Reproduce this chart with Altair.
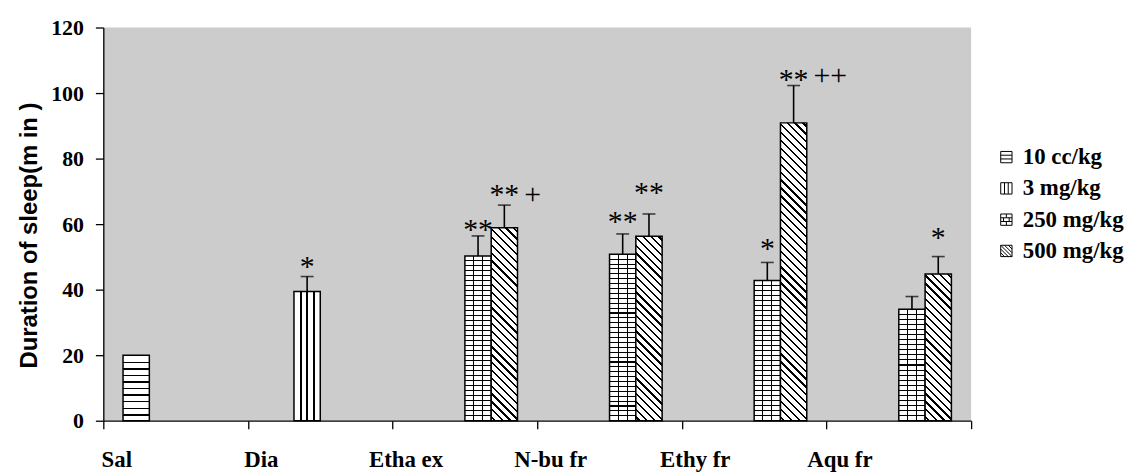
import math
import altair as alt
import pandas as pd

# ---------------- data ----------------
categories = ["Sal", "Dia", "Etha ex", "N-bu fr", "Ethy fr", "Aqu fr"]
series_names = ["10 cc/kg", "3 mg/kg", "250 mg/kg", "500 mg/kg"]

bar_category = ["Sal", "Dia", "Etha ex", "Etha ex", "N-bu fr", "N-bu fr",
                "Ethy fr", "Ethy fr", "Aqu fr", "Aqu fr"]
bar_series = ["10 cc/kg", "3 mg/kg", "250 mg/kg", "500 mg/kg", "250 mg/kg",
              "500 mg/kg", "250 mg/kg", "500 mg/kg", "250 mg/kg", "500 mg/kg"]
bar_value = [20.0, 39.4, 50.3, 58.9, 50.8, 56.3, 42.8, 90.9, 34.0, 44.8]
bar_error = [0.0, 4.6, 6.1, 6.9, 6.2, 6.8, 5.5, 11.4, 3.9, 5.3]
star_text = ["", "*", "**", "**", "**", "**", "*", "**", "", "*"]
star_y = [0, 48.5, 59.7, 70.3, 62.2, 70.9, 53.9, 105.5, 0, 57.3]
plus_text = ["", "", "", "+", "", "", "", "++", "", ""]
plus_y = [0, 0, 0, 68.8, 0, 0, 0, 105.2, 0, 0]
y_ticks = [0, 20, 40, 60, 80, 100, 120]
y_title = "Duration of sleep(m in )"

df = pd.DataFrame({
    "bar_id": list(range(len(bar_value))),
    "cat": bar_category,
    "series": bar_series,
    "value": bar_value,
    "err": bar_error,
    "star": star_text,
    "star_y": star_y,
    "plus": plus_text,
    "plus_y": plus_y,
})

# ---------------- layout / style ----------------
W_PLOT = 874
H_PLOT = 396
Y_MAX = 120
PX_PER_UNIT = H_PLOT / Y_MAX
BAR_W = W_PLOT / len(categories) / 5.5
BG = "white"
INK = "black"
CLEAR = "rgba(0,0,0,0)"


def lines_gradient(x1, y1, x2, y2, centers, half, line=INK, bg=BG):
    stops = [{"offset": 0, "color": bg}]
    for c in centers:
        a = round(max(0.0, c - half), 5)
        b = round(min(1.0, c + half), 5)
        stops += [{"offset": a, "color": bg}, {"offset": a, "color": line},
                  {"offset": b, "color": line}, {"offset": b, "color": bg}]
    stops.append({"offset": 1, "color": bg})
    return {"gradient": "linear", "x1": x1, "y1": y1, "x2": x2, "y2": y2,
            "stops": stops}


def pattern_for(series, value):
    h = max(value * PX_PER_UNIT, 1.0)
    if series == "10 cc/kg":
        n = max(int(round(value / 2)), 1)
        centers = [k / n + 0.01 for k in range(1, n)]
        return lines_gradient(0, 0, 0, 1, centers, 0.7 / h)
    if series == "3 mg/kg":
        return lines_gradient(0, 0, 1, 0, [0.25, 0.5, 0.75], 1.0 / BAR_W)
    if series == "250 mg/kg":
        n = max(int(round(h / 5)), 1)
        centers = [k / n for k in range(1, n)]
        return lines_gradient(0, 0, 0, 1, centers, 0.55 / h)
    # diagonal hatch "\\" for 500 mg/kg
    r = h / BAR_W
    s = (1 + r) / (1 + r * r)
    span = (BAR_W + h) / math.sqrt(2)
    n = max(int(round((BAR_W + h) / 8)), 1)
    centers = [(k + 0.5) / n for k in range(n)]
    return lines_gradient(0, 1, round(s, 6), round(1 - s * r, 6), centers, 0.8 / span)


fill_conditions = [
    {"test": f"datum.bar_id === {i}", "value": pattern_for(s, v)}
    for i, (s, v) in enumerate(zip(bar_series, bar_value))
]
brick_overlay = lines_gradient(0, 0, 1, 0, [1 / 3, 2 / 3], 0.55 / BAR_W,
                               line=INK, bg=CLEAR)

legend_paths = [
    "M-1,-1H1V1H-1Z M-1,-0.33H1 M-1,0.33H1",
    "M-1,-1H1V1H-1Z M-0.33,-1V1 M0.33,-1V1",
    "M-1,-1H1V1H-1Z M-1,-0.33H1 M-1,0.33H1 M0,-1V-0.33 M-0.5,-0.33V0.33 "
    "M0.5,-0.33V0.33 M0,0.33V1",
    "M-1,-1H1V1H-1Z M-1,-1L1,1 M-0.33,-1L1,0.33 M-1,-0.33L0.33,1 "
    "M0.33,-1L1,-0.33 M-1,0.33L-0.33,1",
]

x_scale = alt.Scale(domain=categories, paddingInner=0, paddingOuter=0)
off_scale = alt.Scale(domain=series_names, paddingInner=0, paddingOuter=0.75)
y_scale = alt.Scale(domain=[0, Y_MAX], nice=False, zero=True)

x_axis = alt.Axis(
    title=None, tickBand="extent", labelAngle=0, labelOffset=-59.8,
    labelFont="Liberation Serif", labelFontSize=23, labelFontWeight="bold",
    labelColor=INK, labelBaseline="alphabetic", labelPadding=38,
    labelOverlap=False, tickSize=8, tickColor=INK, tickWidth=1.3,
    domainColor=INK, domainWidth=1.3, grid=False,
)
y_axis = alt.Axis(
    values=y_ticks, title=y_title, grid=False,
    labelFont="Liberation Serif", labelFontSize=22, labelFontWeight="bold",
    labelColor=INK, labelPadding=12, tickSize=8, tickColor=INK, tickWidth=1.3,
    domainColor=INK, domainWidth=1.3,
    titleFont="Liberation Sans", titleFontSize=24, titleFontWeight="bold",
    titleColor=INK, titleAngle=270, titleX=-67, titleY=209,
    titleAlign="center", titleBaseline="alphabetic",
)

base = alt.Chart(df).encode(
    x=alt.X("cat:N", scale=x_scale, axis=x_axis),
    xOffset=alt.XOffset("series:N", scale=off_scale),
)

bars = base.mark_bar(stroke=INK, strokeWidth=1.5).encode(
    y=alt.Y("value:Q", scale=y_scale, axis=y_axis),
    fill=alt.value("white", condition=fill_conditions),
)

overlay = base.transform_filter(alt.datum.series == "250 mg/kg").mark_bar(
    strokeWidth=0
).encode(
    y=alt.Y("value:Q", scale=y_scale, axis=y_axis),
    fill=alt.value(brick_overlay),
)

with_err = base.transform_filter("datum.err > 0").transform_calculate(
    top="datum.value + datum.err"
)
err_lines = with_err.mark_rule(color=INK, strokeWidth=1.6).encode(
    y=alt.Y("value:Q", scale=y_scale, axis=y_axis), y2="top:Q"
)
err_caps = with_err.mark_tick(color=INK, thickness=1.6, size=13,
                              orient="horizontal").encode(
    y=alt.Y("top:Q", scale=y_scale, axis=y_axis)
)

stars = base.transform_filter("datum.star != ''").mark_text(
    font="Liberation Serif", fontSize=30, color=INK, baseline="alphabetic",
    align="center", dy=14
).encode(y=alt.Y("star_y:Q", scale=y_scale, axis=y_axis), text="star:N")

plus = base.transform_filter("datum.plus != ''").mark_text(
    font="Liberation Serif", fontSize=30, color=INK, baseline="alphabetic",
    align="left", dx=20, dy=9
).encode(y=alt.Y("plus_y:Q", scale=y_scale, axis=y_axis), text="plus:N")

legend_layer = base.transform_filter("false").mark_point(
    filled=False, color=INK, strokeWidth=1, opacity=1
).encode(
    y=alt.Y("value:Q", scale=y_scale, axis=y_axis),
    shape=alt.Shape(
        "series:N",
        scale=alt.Scale(domain=series_names, range=legend_paths),
        legend=alt.Legend(
            title=None, orient="none", legendX=898, legendY=119, padding=0,
            symbolSize=130, symbolStrokeWidth=1, symbolStrokeColor=INK,
            symbolOpacity=1,
            labelFont="Liberation Serif", labelFontSize=23,
            labelFontWeight="bold", labelColor=INK, labelOffset=5,
            rowPadding=7.5,
        ),
    ),
)

chart = alt.layer(
    bars, overlay, err_lines, err_caps, stars, plus, legend_layer
).properties(
    width=W_PLOT, height=H_PLOT,
    autosize=alt.AutoSizeParams(type="none"),
    padding={"left": 96, "top": 18, "right": 158, "bottom": 52},
).configure_view(fill="#cccccc", stroke=None)

chart.save("out.html", embed_options={"renderer": "svg", "actions": False})
